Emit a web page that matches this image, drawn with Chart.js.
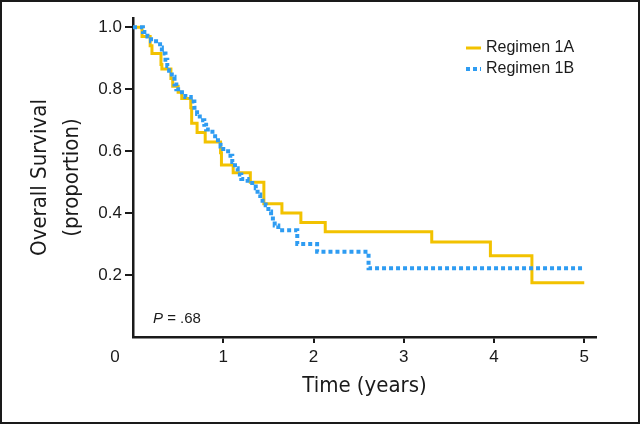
<!DOCTYPE html>
<html>
<head>
<meta charset="utf-8">
<script src="https://cdn.jsdelivr.net/npm/chart.js@4/dist/chart.umd.min.js"></script>
<style>
  html, body { margin: 0; padding: 0; background: #fff; }
  #wrap { width: 640px; height: 424px; box-sizing: border-box; border: 2px solid #1a1a1a; }
  #km { display: block; }
</style>
</head>
<body>
<div id="wrap"><canvas id="km" width="636" height="420"></canvas></div>
<script>
// Kaplan-Meier steps (time in years, survival proportion after the drop)
const timesA = [0, 0.10, 0.19, 0.21, 0.31, 0.32, 0.42, 0.44, 0.50, 0.54, 0.64, 0.65, 0.71, 0.80, 0.97, 0.98,
                1.11, 1.30, 1.45, 1.65, 1.86, 2.13, 3.31, 3.96, 4.42, 5.0];
const survA  = [1.0, 0.97, 0.94, 0.915, 0.88, 0.865, 0.835, 0.81, 0.79, 0.77, 0.74, 0.69, 0.66, 0.63, 0.595, 0.555,
                0.53, 0.50, 0.43, 0.40, 0.37, 0.34, 0.307, 0.262, 0.175, 0.175];

const timesB = [0, 0.11, 0.16, 0.20, 0.30, 0.32, 0.36, 0.38, 0.40, 0.43, 0.46, 0.48, 0.50, 0.58, 0.64, 0.68,
                0.71, 0.74, 0.79, 0.81, 0.88, 0.91, 0.97, 1.00, 1.08, 1.10, 1.13, 1.16, 1.20, 1.27, 1.36,
                1.38, 1.41, 1.47, 1.50, 1.53, 1.55, 1.57, 1.61, 1.82, 2.04, 2.61, 5.0];
const survB  = [1.0, 0.985, 0.97, 0.955, 0.935, 0.915, 0.895, 0.875, 0.86, 0.84, 0.815, 0.80, 0.79, 0.775, 0.76, 0.74,
                0.72, 0.70, 0.685, 0.67, 0.655, 0.635, 0.615, 0.60, 0.585, 0.565, 0.545, 0.525, 0.51, 0.497, 0.48,
                0.46, 0.44, 0.425, 0.405, 0.39, 0.375, 0.36, 0.345, 0.30, 0.275, 0.222, 0.222];

const seriesNames = ['Regimen 1A', 'Regimen 1B'];
const yTicks = [0.2, 0.4, 0.6, 0.8, 1.0];
const xTicks = [1, 2, 3, 4, 5];
const pValueText = '.68';

const YELLOW = '#f2c200';
const BLUE = '#2e9cf2';
const INK = '#1a1a1a';
const SANS = "'Liberation Sans', Arial, Helvetica, sans-serif";
const NARROW = "'DejaVu Sans Condensed', 'Liberation Sans Narrow', sans-serif";

function toPoints(xs, ys) {
    return xs.map((x, i) => ({ x: x, y: ys[i] }));
}

// legend, "0" corner label and P value
const extrasPlugin = {
    id: 'extras',
    afterDraw(chart) {
        const ctx = chart.ctx;
        const area = chart.chartArea;
        const xs = chart.scales.x;
        ctx.save();

        // legend top right
        const lx = area.right - 130;
        chart.data.datasets.forEach((ds, i) => {
            const ly = area.top + 30 + i * 21;
            ctx.beginPath();
            ctx.strokeStyle = ds.borderColor;
            ctx.lineWidth = ds.borderWidth;
            ctx.setLineDash(ds.borderDash || []);
            ctx.moveTo(lx, ly);
            ctx.lineTo(lx + 15, ly);
            ctx.stroke();
            ctx.setLineDash([]);
            ctx.fillStyle = INK;
            ctx.font = '16px ' + SANS;
            ctx.textAlign = 'left';
            ctx.textBaseline = 'middle';
            ctx.fillText(ds.label, lx + 20, ly);
        });

        // "0" at the origin corner
        ctx.font = '17px ' + SANS;
        ctx.textAlign = 'center';
        ctx.textBaseline = 'middle';
        ctx.fillStyle = INK;
        ctx.fillText('0', xs.getPixelForValue(0) - 18, area.bottom + 20);

        // P value
        const px = area.left + 20;
        const py = area.bottom - 18;
        ctx.textAlign = 'left';
        ctx.font = 'italic 15px ' + SANS;
        ctx.fillText('P', px, py);
        const w = ctx.measureText('P').width;
        ctx.font = '15px ' + SANS;
        ctx.fillText(' = ' + pValueText, px + w, py);

        ctx.restore();
    }
};

const ctx = document.getElementById('km').getContext('2d');
new Chart(ctx, {
    type: 'line',
    data: {
        datasets: [{
            label: seriesNames[0],
            data: toPoints(timesA, survA),
            borderColor: YELLOW,
            borderWidth: 3,
            stepped: 'before',
            pointRadius: 0,
            fill: false,
            order: 2
        }, {
            label: seriesNames[1],
            data: toPoints(timesB, survB),
            borderColor: BLUE,
            borderWidth: 4,
            borderDash: [4, 3],
            borderCapStyle: 'butt',
            stepped: 'before',
            pointRadius: 0,
            fill: false,
            order: 1
        }]
    },
    options: {
        responsive: false,
        animation: false,
        events: [],
        layout: { padding: { left: 0, top: 16, right: 42, bottom: 0 } },
        plugins: {
            legend: { display: false },
            tooltip: { enabled: false }
        },
        scales: {
            x: {
                type: 'linear',
                min: 0,
                max: 5.13,
                afterBuildTicks: (scale) => { scale.ticks = xTicks.map(v => ({ value: v })); },
                afterFit: (scale) => { scale.height = 85; },
                ticks: {
                    color: INK,
                    padding: 4,
                    font: { family: SANS, size: 17 },
                    maxRotation: 0,
                    callback: (v) => String(v)
                },
                grid: { display: true, drawOnChartArea: false, drawTicks: true, tickLength: 6, color: INK, lineWidth: 2 },
                border: { display: true, color: INK, width: 2.5 },
                title: {
                    display: true,
                    text: 'Time (years)',
                    color: INK,
                    font: { family: NARROW, size: 22, lineHeight: 1.2 },
                    padding: { top: 0, bottom: 23 }
                }
            },
            y: {
                type: 'linear',
                min: 0,
                max: 1.03,
                afterBuildTicks: (scale) => { scale.ticks = yTicks.map(v => ({ value: v })); },
                afterFit: (scale) => { scale.width = 131; },
                ticks: {
                    color: INK,
                    padding: 3,
                    font: { family: SANS, size: 17 },
                    callback: (v) => Number(v).toFixed(1)
                },
                grid: { display: true, drawOnChartArea: false, drawTicks: true, tickLength: 8, color: INK, lineWidth: 2 },
                border: { display: true, color: INK, width: 2.5 },
                title: {
                    display: true,
                    text: ['Overall Survival', '(proportion)'],
                    color: INK,
                    font: { family: NARROW, size: 22, lineHeight: 1.45 },
                    padding: { top: 22, bottom: 0 }
                }
            }
        }
    },
    plugins: [extrasPlugin]
});
</script>
</body>
</html>
